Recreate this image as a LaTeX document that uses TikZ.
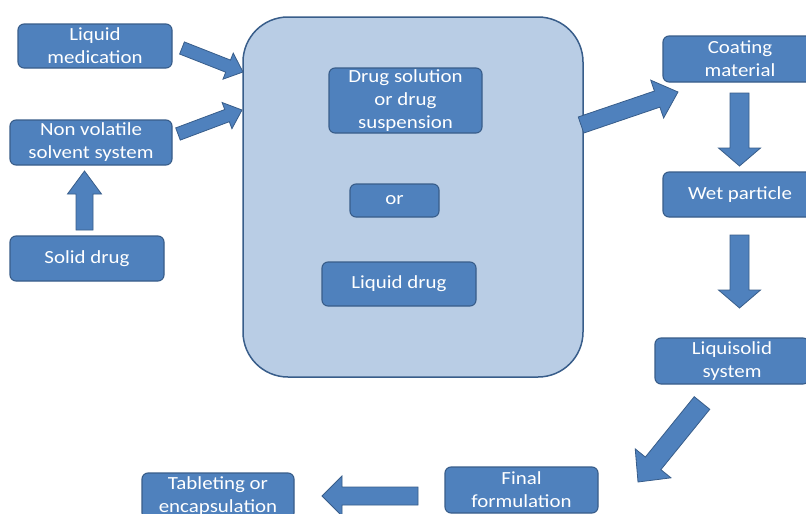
\documentclass[tikz,border=0pt]{standalone}
\usepackage{fontspec}
\setmainfont{Carlito}[FakeStretch=1.13]
\usetikzlibrary{calc}
\definecolor{boxblue}{HTML}{4F81BD}
\definecolor{edgeblue}{HTML}{385D8A}
\definecolor{bigfill}{HTML}{B9CDE5}
\newcommand\blockarr[5]{%
  \coordinate (hb) at ($(#2)!#5!(#1)$);
  \draw[barrow] ($(#1)!#3!90:(#2)$) -- ($(hb)!#3!-90:(#1)$) -- ($(hb)!#4!-90:(#1)$) -- (#2)
    -- ($(hb)!#4!90:(#1)$) -- ($(hb)!#3!90:(#1)$) -- ($(#1)!#3!-90:(#2)$) -- cycle;
}
\begin{document}
\begin{tikzpicture}[x=1pt,y=-1pt,
  stepbox/.style={draw=edgeblue, line width=1.1pt, fill=boxblue, rounded corners=6pt,
    text=white, font=\fontsize{18.5}{23}\selectfont, align=center, inner sep=0pt},
  bigbox/.style={draw=edgeblue, line width=1.5pt, fill=bigfill, rounded corners=45pt},
  barrow/.style={draw=edgeblue, line width=0.8pt, fill=boxblue, line join=miter}]
\useasboundingbox (0,0) rectangle (806,514);
\fill[white] (0,0) rectangle (806,514);

\node[bigbox, minimum width=340pt, minimum height=360pt] (big) at (413,197) {};

\node[stepbox, minimum width=154pt, minimum height=44pt] (lm) at (95,46) {Liquid\\medication};
\node[stepbox, minimum width=162pt, minimum height=45pt] (nv) at (91,142.5) {Non volatile\\solvent system};
\node[stepbox, minimum width=154pt, minimum height=45pt] (sd) at (87,258.5) {Solid drug};

\node[stepbox, minimum width=153pt, minimum height=65pt] (ds) at (405.5,100.5) {Drug solution\\or drug\\suspension};
\node[stepbox, minimum width=89pt, minimum height=33pt] (or) at (394.5,200.5) {or};
\node[stepbox, minimum width=154pt, minimum height=44pt] (ld) at (399,284) {Liquid drug};

\node[stepbox, minimum width=154pt, minimum height=46pt] (cm) at (740,59) {Coating\\material};
\node[stepbox, minimum width=154pt, minimum height=45pt] (wp) at (740,194.5) {Wet particle};
\node[stepbox, minimum width=154pt, minimum height=46pt] (ls) at (732,361) {Liquisolid\\system};
\node[stepbox, minimum width=153pt, minimum height=46pt] (ff) at (521.5,490) {Final\\formulation};
\node[stepbox, minimum width=152pt, minimum height=46pt] (te) at (218,496) {Tableting or\\encapsulation};

\coordinate (a1s) at (182,48);   \coordinate (a1e) at (243,72);
\coordinate (a2s) at (178,134);  \coordinate (a2e) at (242,110);
\coordinate (a0s) at (84.5,230); \coordinate (a0e) at (84.5,171);
\coordinate (a3s) at (581,125);  \coordinate (a3e) at (678,92);
\coordinate (a4s) at (739.5,93); \coordinate (a4e) at (739.5,166);
\coordinate (a5s) at (739.5,235); \coordinate (a5e) at (739.5,308);
\coordinate (a6s) at (702,403);  \coordinate (a6e) at (638,482);
\coordinate (a7s) at (418,496);  \coordinate (a7e) at (322,496);

\blockarr{a1s}{a1e}{6.5pt}{14pt}{16pt}
\blockarr{a2s}{a2e}{6.5pt}{14pt}{16pt}
\blockarr{a0s}{a0e}{8.5pt}{17pt}{23pt}
\blockarr{a3s}{a3e}{8.5pt}{20pt}{22pt}
\blockarr{a4s}{a4e}{9.5pt}{21pt}{18pt}
\blockarr{a5s}{a5e}{9.5pt}{21pt}{18pt}
\blockarr{a6s}{a6e}{10pt}{23pt}{24pt}
\blockarr{a7s}{a7e}{9pt}{20pt}{20pt}
\end{tikzpicture}
\end{document}
